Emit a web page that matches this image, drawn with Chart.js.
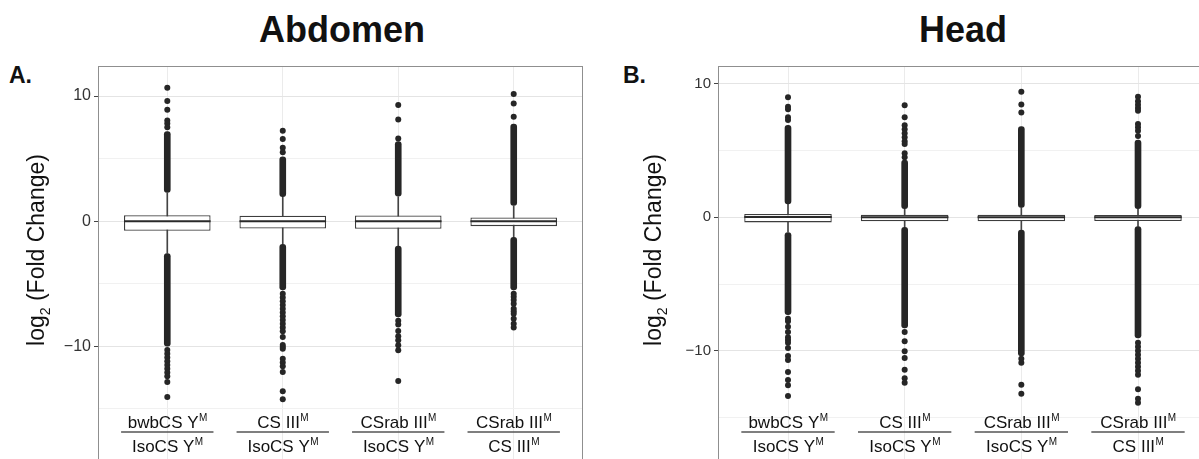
<!DOCTYPE html>
<html>
<head>
<meta charset="utf-8">
<title>log2 fold change - Abdomen / Head</title>
<script src="https://cdn.jsdelivr.net/npm/chart.js@4.4.1/dist/chart.umd.min.js"></script>
<style>
  body { margin: 0; background: #fff; font-family: "Liberation Sans", Arial, Helvetica, sans-serif; }
  #wrap { position: relative; width: 1199px; height: 459px; overflow: hidden; }
  .ttl { position: absolute; top: 9px; font-weight: bold; font-size: 36px; color: #111; transform: translateX(-50%); white-space: nowrap; }
  .tag { position: absolute; top: 62px; font-weight: bold; font-size: 23px; color: #111; }
  #cA { position: absolute; left: 0; top: 0; }
  #cB { position: absolute; left: 600px; top: 0; }
</style>
</head>
<body>
<div id="wrap">
  <div class="ttl" style="left:342px">Abdomen</div>
  <div class="ttl" style="left:963px">Head</div>
  <div class="tag" style="left:9px">A.</div>
  <div class="tag" style="left:623px">B.</div>
  <canvas id="cA" width="600" height="472"></canvas>
  <canvas id="cB" width="620" height="472"></canvas>
</div>

<script>
// comparisons (numerator over denominator, both carry a superscript M)
const numerators   = ["bwbCS Y", "CS III", "CSrab III", "CSrab III"];
const denominators = ["IsoCS Y", "IsoCS Y", "IsoCS Y", "CS III"];
const yTicks = [-15, -10, -5, 0, 5, 10];

// ---- Abdomen ----
const abdQ1       = [-0.77, -0.59, -0.61, -0.40];
const abdMedian   = [0.0, 0.0, 0.0, 0.0];
const abdQ3       = [0.48, 0.43, 0.45, 0.29];
const abdWhiskLo  = [-2.55, -1.80, -1.95, -1.28];
const abdWhiskHi  = [2.25, 1.90, 1.95, 1.20];
const abdUpBand   = [[2.3, 7.15], [1.95, 5.15], [2.0, 6.35], [1.25, 7.75]];
const abdLowBand  = [[-2.6, -10.0], [-1.85, -5.5], [-2.0, -7.65], [-1.3, -5.5]];
const abdOutliers = [
  [10.67, 9.6, 8.9, 8.05, 7.8, 7.5, -10.3, -10.6, -10.9, -11.2, -11.5, -11.8, -12.1, -12.4, -12.85, -14.05],
  [7.23, 6.56, 5.87, 5.5, -5.8, -6.1, -6.4, -6.7, -7.0, -7.3, -7.6, -7.9, -8.2, -8.5, -8.8, -9.25, -9.9, -10.05, -10.2, -11.0, -11.3, -11.6, -12.05, -13.6, -14.24],
  [9.28, 8.13, 6.6, -7.95, -8.25, -8.77, -9.2, -9.52, -9.92, -10.32, -12.77],
  [10.16, 9.41, 8.35, -5.8, -6.05, -6.3, -6.6, -7.0, -7.2, -7.4, -7.8, -8.2, -8.5]
];

// ---- Head ----
const headQ1       = [-0.38, -0.30, -0.30, -0.28];
const headMedian   = [0.02, 0.0, 0.0, 0.0];
const headQ3       = [0.25, 0.20, 0.20, 0.18];
const headWhiskLo  = [-1.10, -0.72, -0.92, -0.68];
const headWhiskHi  = [0.98, 0.60, 0.72, 0.60];
const headUpBand   = [[1.0, 6.9], [0.65, 4.3], [0.75, 6.8], [0.65, 5.8]];
const headLowBand  = [[-1.15, -7.3], [-0.75, -8.3], [-0.95, -10.4], [-0.7, -9.05]];
const headOutliers = [
  [9.0, 8.3, 8.1, 7.5, 7.3, -7.6, -7.8, -8.2, -8.6, -9.0, -9.2, -9.4, -9.8, -10.4, -10.7, -11.6, -12.2, -12.6, -13.4],
  [8.4, 7.5, 6.9, 6.6, 6.3, 6.0, 5.7, 5.5, 4.8, 4.5, -8.6, -9.3, -10.05, -10.55, -11.43, -12.06, -12.4],
  [9.42, 8.47, 7.86, -10.6, -10.9, -12.56, -13.24],
  [9.05, 8.7, 8.45, 8.2, 8.0, 7.0, 6.75, 6.5, 6.1, -9.4, -9.7, -10.0, -10.3, -10.6, -10.9, -11.2, -11.5, -11.8, -12.9, -13.6, -13.9]
];

const FONT = '"Liberation Sans", Arial, Helvetica, sans-serif';
Chart.defaults.font.family = FONT;
const DOT = '#262626';

// text with a trailing superscript M, centred on cx
function supText(ctx, txt, cx, cy, fs) {
  ctx.font = fs + 'px ' + FONT;
  const w1 = ctx.measureText(txt).width;
  ctx.font = Math.round(fs * 0.6) + 'px ' + FONT;
  const w2 = ctx.measureText('M').width;
  const x0 = cx - (w1 + w2) / 2;
  ctx.textAlign = 'left';
  ctx.textBaseline = 'middle';
  ctx.font = fs + 'px ' + FONT;
  ctx.fillText(txt, x0, cy);
  ctx.font = Math.round(fs * 0.6) + 'px ' + FONT;
  ctx.fillText('M', x0 + w1 + 0.5, cy - fs * 0.3);
}

const decor = {
  id: 'decor',
  afterDraw(chart, args, o) {
    const ctx = chart.ctx, a = chart.chartArea, xs = chart.scales.x;
    ctx.save();
    // panel frame
    ctx.strokeStyle = '#8f8f8f';
    ctx.lineWidth = 1;
    ctx.strokeRect(a.left + 0.5, a.top + 0.5, a.right - a.left - 1, a.bottom - a.top + 5);

    // y axis title  log2 (Fold Change)
    ctx.fillStyle = '#111';
    ctx.translate(o.titleX, o.titleY);
    ctx.rotate(-Math.PI / 2);
    const fs = 23;
    ctx.font = fs + 'px ' + FONT;
    const w1 = ctx.measureText('log').width;
    const w3 = ctx.measureText(' (Fold Change)').width;
    ctx.font = Math.round(fs * 0.62) + 'px ' + FONT;
    const w2 = ctx.measureText('2').width;
    const x0 = -(w1 + w2 + w3) / 2;
    ctx.textBaseline = 'middle';
    ctx.textAlign = 'left';
    ctx.font = fs + 'px ' + FONT;
    ctx.fillText('log', x0, 0);
    ctx.font = Math.round(fs * 0.62) + 'px ' + FONT;
    ctx.fillText('2', x0 + w1, fs * 0.35);
    ctx.font = fs + 'px ' + FONT;
    ctx.fillText(' (Fold Change)', x0 + w1 + w2, 0);
    ctx.restore();

    // category labels written as fractions
    ctx.save();
    ctx.fillStyle = '#111';
    numerators.forEach((n, i) => {
      const cx = xs.getPixelForValue(i + 1);
      const half = xs.getPixelForValue(i + 1.4) - cx;
      supText(ctx, n, cx, o.numY, 17);
      ctx.strokeStyle = '#555';
      ctx.lineWidth = 1.5;
      ctx.beginPath();
      ctx.moveTo(cx - half, o.lineY);
      ctx.lineTo(cx + half, o.lineY);
      ctx.stroke();
      supText(ctx, denominators[i], cx, o.denY, 17);
    });
    ctx.restore();
  }
};

function halfBox(chart) {
  const xs = chart.scales.x;
  return xs.getPixelForValue(1.375) - xs.getPixelForValue(1);
}

function makeChart(id, d, lay) {
  const cats = numerators.map((_, i) => i + 1);
  const pts = [];
  d.outliers.forEach((list, i) => list.forEach(v => pts.push({ x: i + 1, y: v })));
  return new Chart(document.getElementById(id), {
    type: 'bar',
    data: {
      datasets: [
        { type: 'bar', order: 6, grouped: false, barThickness: 1, backgroundColor: '#444',
          data: cats.map((x, i) => ({ x, y: [d.whiskLo[i], d.whiskHi[i]] })) },
        { type: 'bar', order: 5, grouped: false, barThickness: 6, backgroundColor: DOT,
          borderRadius: 3, borderSkipped: false,
          data: cats.map((x, i) => ({ x, y: d.upBand[i] })) },
        { type: 'bar', order: 5, grouped: false, barThickness: 6, backgroundColor: DOT,
          borderRadius: 3, borderSkipped: false,
          data: cats.map((x, i) => ({ x, y: d.lowBand[i] })) },
        { type: 'scatter', order: 4, data: pts, pointRadius: 3, pointBackgroundColor: DOT,
          pointBorderWidth: 0 },
        { type: 'bar', order: 2, grouped: false, barPercentage: 0.75, categoryPercentage: 1,
          backgroundColor: '#fff', borderColor: '#3d3d3d', borderWidth: 1.3, borderSkipped: false,
          data: cats.map((x, i) => ({ x, y: [d.q1[i], d.q3[i]] })) },
        { type: 'scatter', order: 1, pointStyle: 'line', borderColor: '#2a2a2a', borderWidth: 2,
          pointRadius: c => halfBox(c.chart),
          data: cats.map((x, i) => ({ x, y: d.median[i] })) }
      ]
    },
    options: {
      responsive: false,
      animation: false,
      events: [],
      layout: { padding: { top: 66, right: lay.padRight, left: 0, bottom: 0 } },
      plugins: {
        legend: { display: false },
        tooltip: { enabled: false },
        decor: lay
      },
      scales: {
        x: {
          type: 'linear', min: 0.4, max: 4.6, offset: false,
          afterBuildTicks: s => { s.ticks = cats.map(v => ({ value: v })); },
          ticks: { display: false },
          grid: { offset: false, color: '#ebebeb', drawTicks: false },
          border: { display: false },
          afterFit: s => { s.height = 0; }
        },
        y: {
          min: lay.yMin, max: lay.yMax,
          afterBuildTicks: s => { s.ticks = yTicks.map(v => ({ value: v })); },
          ticks: {
            color: '#333', padding: 3, font: { size: lay.tickSize },
            callback: v => (v % 10 === 0 ? String(v).replace('-', '\u2212') : '')
          },
          grid: {
            color: c => (c.tick && c.tick.value % 10 === 0 ? '#e4e4e4' : '#f1f1f1'),
            tickColor: c => (c.tick && c.tick.value % 10 === 0 ? '#444' : 'rgba(0,0,0,0)'),
            tickLength: 4
          },
          border: { display: false },
          afterFit: s => { s.width = lay.axisWidth; }
        }
      }
    },
    plugins: [decor]
  });
}

makeChart('cA', {
  q1: abdQ1, median: abdMedian, q3: abdQ3, whiskLo: abdWhiskLo, whiskHi: abdWhiskHi,
  upBand: abdUpBand, lowBand: abdLowBand, outliers: abdOutliers
}, { yMin: -19.04, yMax: 12.4, axisWidth: 98, padRight: 17, tickSize: 16,
     titleX: 38, titleY: 250, numY: 423, lineY: 432, denY: 447 });

makeChart('cB', {
  q1: headQ1, median: headMedian, q3: headQ3, whiskLo: headWhiskLo, whiskHi: headWhiskHi,
  upBand: headUpBand, lowBand: headLowBand, outliers: headOutliers
}, { yMin: -18.2, yMax: 11.35, axisWidth: 118, padRight: 12, tickSize: 15,
     titleX: 55, titleY: 250, numY: 423, lineY: 432, denY: 447 });
</script>
</body>
</html>
